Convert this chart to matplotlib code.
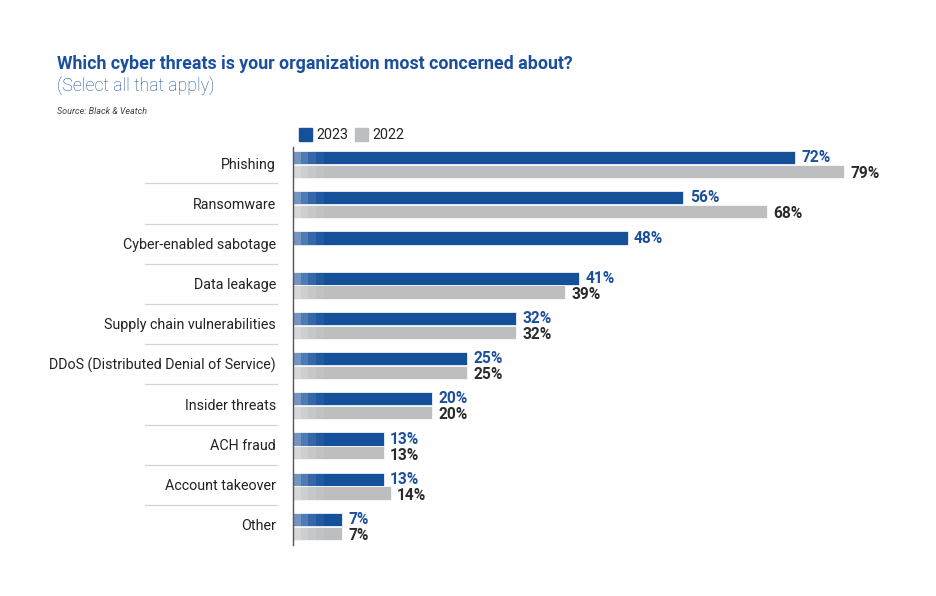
import numpy as np
import matplotlib.pyplot as plt
from matplotlib import transforms

categories = ["Phishing", "Ransomware", "Cyber-enabled sabotage", "Data leakage",
              "Supply chain vulnerabilities", "DDoS (Distributed Denial of Service)",
              "Insider threats", "ACH fraud", "Account takeover", "Other"]
vals_2023 = [72, 56, 48, 41, 32, 25, 20, 13, 13, 7]
vals_2022 = [79, 68, None, 39, 32, 25, 20, 13, 14, 7]

BLUE = "#15509b"
GRAY = "#bdbec0"

plt.rcParams["font.family"] = ["Roboto", "DejaVu Sans"]

W, H = 936, 596
fig = plt.figure(figsize=(W / 100, H / 100), dpi=100)

# axes placed in pixel terms
px_left, px_right, px_top, px_bot = 293, 936, 147, 545
ax = fig.add_axes([px_left / W, 1 - px_bot / H, (px_right - px_left) / W, (px_bot - px_top) / H])

row_h = 40.2
first_c = 164.5
ax.set_ylim((px_bot - first_c) / row_h, (px_top - first_c) / row_h)
px_per_pct = (795 - 293) / 72
ax.set_xlim(0, (px_right - px_left) / px_per_pct)

y = np.arange(len(categories))
bh = 0.33
off = 0.17


def fade(yc):
    # soft lighter patch at the start of each bar, as in the original artwork
    for k, a in enumerate([0.4, 0.25, 0.14, 0.06]):
        ax.barh(yc, 1.1, left=k * 1.1, height=bh, color="white", alpha=a, lw=0)


for i, (a, b) in enumerate(zip(vals_2023, vals_2022)):
    ax.barh(y[i] - off, a, height=bh, color=BLUE, edgecolor="white", linewidth=0.5)
    fade(y[i] - off)
    ax.text(a + 0.9, y[i] - off, f"{a}%", va="center", ha="left", color="#1b4f9c",
            fontsize=11.2, fontweight="bold")
    if b is not None:
        ax.barh(y[i] + off, b, height=bh, color=GRAY, edgecolor="white", linewidth=0.5)
        fade(y[i] + off)
        ax.text(b + 0.9, y[i] + off + 0.06, f"{b}%", va="center", ha="left", color="#2a2a2a",
                fontsize=11.2, fontweight="bold")

for s in ["top", "right", "bottom"]:
    ax.spines[s].set_visible(False)
ax.spines["left"].set_color("#555555")
ax.spines["left"].set_linewidth(1.0)
ax.set_xticks([])
ax.set_yticks([])

# category labels and separators, x in figure coords
trans = transforms.blended_transform_factory(fig.transFigure, ax.transData)
for i, c in enumerate(categories):
    ax.text(276 / W, y[i], c, transform=trans, ha="right", va="center",
            fontsize=10.3, color="#222222")
    if i < len(categories) - 1:
        ax.plot([145 / W, 277 / W], [i + 0.47, i + 0.47], transform=trans,
                color="#d3d3d3", lw=0.9, clip_on=False)

# title block
fig.text(57 / W, 1 - 64 / H, "Which cyber threats is your organization most concerned about?",
         color="#1b4f9c", fontsize=12.8, fontweight="bold", va="center", ha="left")
fig.text(57 / W, 1 - 86 / H, "(Select all that apply)",
         color="#1b4f9c", fontsize=12.8, fontweight="light", va="center", ha="left")
fig.text(57 / W, 1 - 111 / H, "Source: Black & Veatch",
         color="#444444", fontsize=6.5, style="italic", va="center", ha="left")

# legend
for x0, col, lab in [(299, BLUE, "2023"), (355, GRAY, "2022")]:
    fig.patches.append(plt.Rectangle((x0 / W, 1 - 141 / H), 13 / W, 13 / H,
                                     transform=fig.transFigure, color=col))
    fig.text((x0 + 17) / W, 1 - 135 / H, lab, color="#222222", fontsize=10.3,
             va="center", ha="left")

fig.savefig("out.png", dpi=100, facecolor="white")
